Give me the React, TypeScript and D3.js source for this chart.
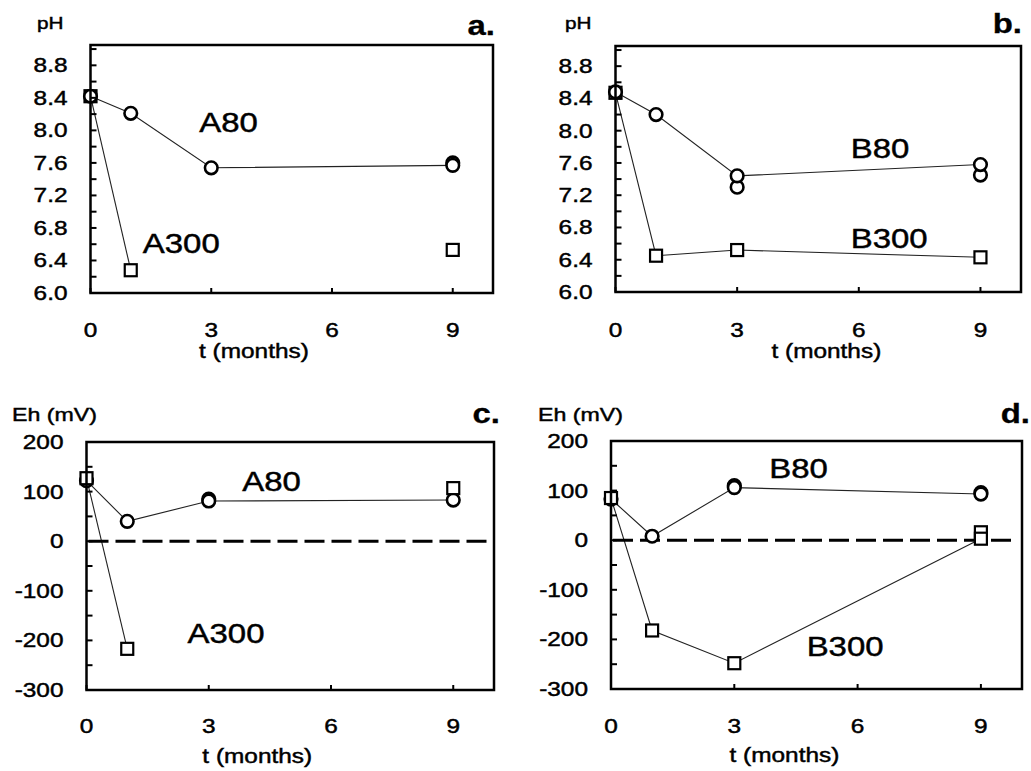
import React from "react";
import * as d3 from "d3";

// ---------- data ----------
const months = [0, 1, 3, 9];
const monthsA300 = [0, 1];
const xTicks = [0, 3, 6, 9];

const phTicks = [6.0, 6.4, 6.8, 7.2, 7.6, 8.0, 8.4, 8.8];
const ehTicks = [-300, -200, -100, 0, 100, 200];

// panel a (pH, sample A)
const phA80 = [8.42, 8.21, 7.54, 7.57];
const phA80RepT = [9];
const phA80RepV = [7.6];
const phA300 = [8.42, 6.28];
const phA300LooseT = [9];
const phA300LooseV = [6.53];

// panel b (pH, sample B)
const phB80 = [8.48, 8.2, 7.44, 7.58];
const phB80RepT = [3, 9];
const phB80RepV = [7.3, 7.45];
const phB300 = [8.47, 6.45, 6.52, 6.43];

// panel c (Eh, sample A)
const ehA80 = [122, 40, 81, 83];
const ehA80RepT = [3];
const ehA80RepV = [85];
const ehA300 = [127, -217];
const ehA300LooseT = [9];
const ehA300LooseV = [107];

// panel d (Eh, sample B)
const ehB80 = [83, 8, 106, 93];
const ehB80RepT = [3, 9];
const ehB80RepV = [110, 96];
const ehB300 = [85, -182, -248, 3];
const ehB300RepT = [9];
const ehB300RepV = [16];

// ---------- layout ----------
const FONT = "'Liberation Sans', Arial, Helvetica, sans-serif";
const SX = 1.22;

type Series = {
  marker: "circle" | "square";
  t: number[];
  v: number[];
  extraT: number[];
  extraV: number[];
};

type Panel = {
  key: string;
  letter: string;
  yTitle: string;
  box: { l: number; r: number; t: number; b: number };
  yDomain: [number, number];
  yTicks: number[];
  minorStep: number;
  tickFmt: (v: number) => string;
  series: Series[];
  labels: { text: string; t: number; v: number }[];
  squaresOnTop: boolean;
  zeroLine: boolean;
  xLabelT: number;
  tickBase: number;
  xLabelBase: number;
  titlePos: { x: number; y: number };
  letterPos: { x: number; y: number };
};

const panels: Panel[] = [
  {
    key: "a",
    letter: "a.",
    yTitle: "pH",
    box: { l: 90.5, r: 493, t: 45, b: 293 },
    yDomain: [6.0, 9.05],
    yTicks: phTicks,
    minorStep: 0.2,
    tickFmt: (v) => v.toFixed(1),
    series: [
      { marker: "square", t: monthsA300, v: phA300, extraT: phA300LooseT, extraV: phA300LooseV },
      { marker: "circle", t: months, v: phA80, extraT: phA80RepT, extraV: phA80RepV },
    ],
    labels: [
      { text: "A80", t: 2.7, v: 7.98 },
      { text: "A300", t: 1.3, v: 6.49 },
    ],
    squaresOnTop: false,
    zeroLine: false,
    xLabelT: 4.06,
    tickBase: 44,
    xLabelBase: 65,
    titlePos: { x: 37, y: 29 },
    letterPos: { x: 495, y: 35 },
  },
  {
    key: "b",
    letter: "b.",
    yTitle: "pH",
    box: { l: 615.5, r: 1021, t: 46, b: 292 },
    yDomain: [6.0, 9.05],
    yTicks: phTicks,
    minorStep: 0.2,
    tickFmt: (v) => v.toFixed(1),
    series: [
      { marker: "square", t: months, v: phB300, extraT: [], extraV: [] },
      { marker: "circle", t: months, v: phB80, extraT: phB80RepT, extraV: phB80RepV },
    ],
    labels: [
      { text: "B80", t: 5.8, v: 7.66 },
      { text: "B300", t: 5.8, v: 6.55 },
    ],
    squaresOnTop: false,
    zeroLine: false,
    xLabelT: 5.2,
    tickBase: 45,
    xLabelBase: 66,
    titlePos: { x: 565, y: 29 },
    letterPos: { x: 1022, y: 33 },
  },
  {
    key: "c",
    letter: "c.",
    yTitle: "Eh (mV)",
    box: { l: 86.5, r: 494, t: 442, b: 690 },
    yDomain: [-300, 200],
    yTicks: ehTicks,
    minorStep: 50,
    tickFmt: (v) => String(v),
    series: [
      { marker: "circle", t: months, v: ehA80, extraT: ehA80RepT, extraV: ehA80RepV },
      { marker: "square", t: monthsA300, v: ehA300, extraT: ehA300LooseT, extraV: ehA300LooseV },
    ],
    labels: [
      { text: "A80", t: 3.82, v: 101 },
      { text: "A300", t: 2.48, v: -206 },
    ],
    squaresOnTop: true,
    zeroLine: true,
    xLabelT: 4.19,
    tickBase: 43,
    xLabelBase: 73,
    titlePos: { x: 12, y: 421 },
    letterPos: { x: 500, y: 423 },
  },
  {
    key: "d",
    letter: "d.",
    yTitle: "Eh (mV)",
    box: { l: 611, r: 1022, t: 441, b: 689 },
    yDomain: [-300, 200],
    yTicks: ehTicks,
    minorStep: 50,
    tickFmt: (v) => String(v),
    series: [
      { marker: "circle", t: months, v: ehB80, extraT: ehB80RepT, extraV: ehB80RepV },
      { marker: "square", t: months, v: ehB300, extraT: ehB300RepT, extraV: ehB300RepV },
    ],
    labels: [
      { text: "B80", t: 3.85, v: 125 },
      { text: "B300", t: 4.76, v: -234 },
    ],
    squaresOnTop: true,
    zeroLine: true,
    xLabelT: 4.22,
    tickBase: 44,
    xLabelBase: 73,
    titlePos: { x: 538, y: 421 },
    letterPos: { x: 1030, y: 423 },
  },
];

function T({
  x,
  y,
  anchor = "start",
  size,
  weight = "normal",
  children,
}: {
  x: number;
  y: number;
  anchor?: string;
  size: number;
  weight?: string;
  children: React.ReactNode;
}) {
  return (
    <text
      transform={`translate(${x},${y}) scale(${SX},1)`}
      textAnchor={anchor}
      fontSize={size}
      fontWeight={weight}
      fontFamily={FONT}
      fill="#000"
      stroke="#000"
      strokeWidth={weight === "bold" ? 0.3 : 0.45}
    >
      {children}
    </text>
  );
}

function Marker({ kind, x, y }: { kind: string; x: number; y: number }) {
  if (kind === "circle") {
    return <circle cx={x} cy={y} r={6.3} fill="#fff" stroke="#000" strokeWidth={2.6} />;
  }
  return <rect x={x - 6} y={y - 6} width={12} height={12} fill="#fff" stroke="#000" strokeWidth={2.2} />;
}

function PanelView({ p }: { p: Panel }) {
  const x = d3.scaleLinear().domain([0, 10]).range([p.box.l, p.box.r]);
  const y = d3.scaleLinear().domain(p.yDomain).range([p.box.b, p.box.t]);
  const line = d3
    .line<[number, number]>()
    .x((d) => x(d[0]))
    .y((d) => y(d[1]));

  const minorTicks = d3.range(p.yDomain[0], p.yDomain[1] + 1e-9, p.minorStep);

  const ordered = [...p.series].sort((a, b) => {
    const rank = (s: Series) =>
      s.marker === "square" ? (p.squaresOnTop ? 1 : 0) : p.squaresOnTop ? 0 : 1;
    return rank(a) - rank(b);
  });

  return (
    <g>
      {/* connecting lines */}
      {p.series.map((s, i) => (
        <path
          key={"l" + i}
          d={line(s.t.map((t, j) => [t, s.v[j]] as [number, number])) || ""}
          fill="none"
          stroke="#222"
          strokeWidth={1.1}
        />
      ))}
      {p.zeroLine && (
        <line
          x1={p.box.l + 2}
          x2={p.box.r - 6}
          y1={y(0)}
          y2={y(0)}
          stroke="#000"
          strokeWidth={3}
          strokeDasharray="20 7"
        />
      )}
      {/* markers */}
      {ordered.map((s, i) => (
        <g key={"m" + i}>
          {s.extraT.map((t, j) => (
            <Marker key={"e" + j} kind={s.marker} x={x(t)} y={y(s.extraV[j])} />
          ))}
          {s.t.map((t, j) => (
            <Marker key={"p" + j} kind={s.marker} x={x(t)} y={y(s.v[j])} />
          ))}
        </g>
      ))}
      {/* frame */}
      <rect
        x={p.box.l}
        y={p.box.t}
        width={p.box.r - p.box.l}
        height={p.box.b - p.box.t}
        fill="none"
        stroke="#000"
        strokeWidth={2.5}
      />
      {/* y ticks (inward) */}
      {minorTicks.map((v, i) => (
        <line
          key={"yt" + i}
          x1={p.box.l}
          x2={p.box.l + 6}
          y1={y(v)}
          y2={y(v)}
          stroke="#000"
          strokeWidth={2}
        />
      ))}
      {/* x ticks (inward) */}
      {xTicks.map((t, i) => (
        <line
          key={"xt" + i}
          x1={x(t)}
          x2={x(t)}
          y1={p.box.b}
          y2={p.box.b - 5}
          stroke="#000"
          strokeWidth={2}
        />
      ))}
      {/* y tick labels */}
      {p.yTicks.map((v, i) => (
        <T key={"yl" + i} x={p.box.l - 23} y={y(v) + 7} anchor="end" size={20}>
          {p.tickFmt(v)}
        </T>
      ))}
      {/* x tick labels */}
      {xTicks.map((t, i) => (
        <T key={"xl" + i} x={x(t)} y={p.box.b + p.tickBase} anchor="middle" size={20}>
          {String(t)}
        </T>
      ))}
      <T x={x(p.xLabelT)} y={p.box.b + p.xLabelBase} anchor="middle" size={20}>
        t (months)
      </T>
      {/* y title */}
      <T x={p.titlePos.x} y={p.titlePos.y} size={p.yTitle === "pH" ? 17 : 19}>
        {p.yTitle}
      </T>
      {/* panel letter */}
      <T x={p.letterPos.x} y={p.letterPos.y} anchor="end" size={27} weight="bold">
        {p.letter}
      </T>
      {/* series labels */}
      {p.labels.map((l, i) => (
        <T key={"sl" + i} x={x(l.t)} y={y(l.v)} size={27}>
          {l.text}
        </T>
      ))}
    </g>
  );
}

export default function App() {
  return (
    <svg
      width={1031}
      height={771}
      style={{ position: "absolute", left: 0, top: 0, background: "#fff" }}
    >
      <rect x={0} y={0} width={1031} height={771} fill="#fff" />
      {panels.map((p) => (
        <PanelView key={p.key} p={p} />
      ))}
    </svg>
  );
}
